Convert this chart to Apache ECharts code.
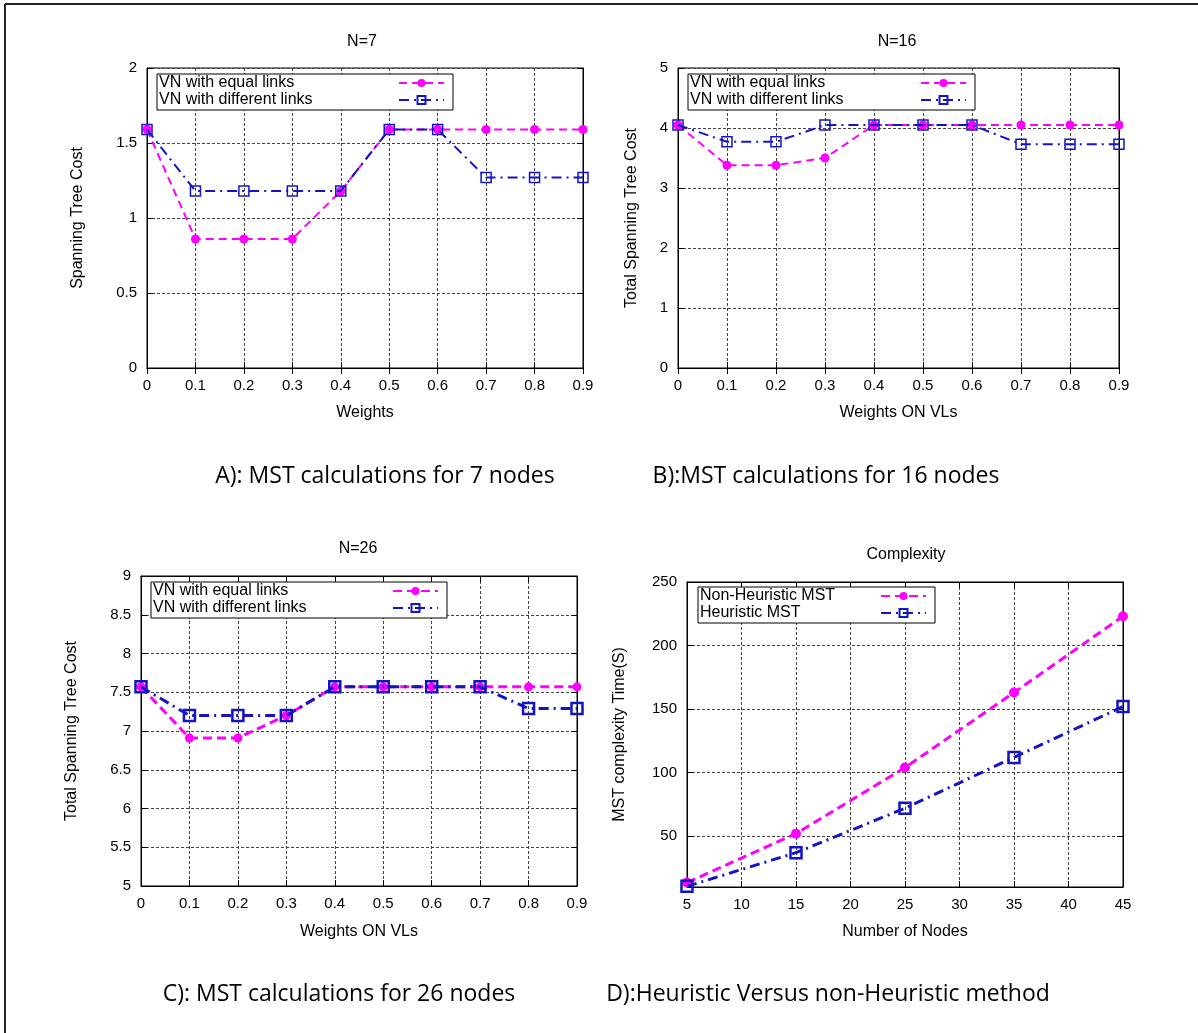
<!DOCTYPE html>
<html><head><meta charset="utf-8">
<script src="https://cdn.jsdelivr.net/npm/echarts@6/dist/echarts.min.js"></script>
<style>html,body{margin:0;padding:0;background:#fff}#c{width:1198px;height:1033px}</style>
</head><body><div id="c"></div>
<script>
// ---- data ----
const weights = ['0','0.1','0.2','0.3','0.4','0.5','0.6','0.7','0.8','0.9'];
const n7Equal  = [1.59,0.86,0.86,0.86,1.18,1.59,1.59,1.59,1.59,1.59];
const n7Diff   = [1.59,1.18,1.18,1.18,1.18,1.59,1.59,1.27,1.27,1.27];
const n16Equal = [4.05,3.38,3.38,3.50,4.05,4.05,4.05,4.05,4.05,4.05];
const n16Diff  = [4.05,3.77,3.77,4.05,4.05,4.05,4.05,3.73,3.73,3.73];
const n26Equal = [7.57,6.91,6.91,7.20,7.57,7.57,7.57,7.57,7.57,7.57];
const n26Diff  = [7.57,7.20,7.20,7.20,7.57,7.57,7.57,7.57,7.29,7.29];
const nodes = [5,15,25,35,45];
const nonHeuristic = [13.5,52,104,163,223];
const heuristic    = [10.5,37,72,112,152];
const complexityTicks = [50,100,150,200,250];
const panelTitles = ['N=7','N=16','N=26','Complexity'];
const captions = ['A): MST calculations for 7 nodes','B):MST calculations for 16 nodes',
                  'C): MST calculations for 26 nodes','D):Heuristic Versus non-Heuristic method'];
const legendEqual = 'VN with equal links', legendDiff = 'VN with different links';
const legendNonH = 'Non-Heuristic MST', legendH = 'Heuristic MST';

const FONT = 'Liberation Sans';
const MAG = '#ff00ff', BLUE = '#1414c4';
const chart = echarts.init(document.getElementById('c'));

const grids = [
  {left:147, top:68, width:436, height:300},
  {left:678, top:68, width:441, height:300},
  {left:141, top:576, width:436, height:310},
  {left:687, top:582, width:436, height:305}
].map(g => Object.assign({show:true, borderColor:'#000', borderWidth:1, backgroundColor:'#fff'}, g));

const gridLine = {show:true, lineStyle:{color:'#444', type:[3,2], width:1}};
const lbl = {color:'#000', fontFamily:FONT, fontSize:15};
const tick = {show:true, inside:true, length:6, lineStyle:{color:'#000'}};
const axLine = {show:true, lineStyle:{color:'#000', width:1}};
const nameStyle = {color:'#000', fontFamily:FONT, fontSize:16};

const xAxes = [], yAxes = [];
function addX(gi, base, name, nameGap) {
  xAxes.push(Object.assign({gridIndex:gi, position:'bottom', axisLine:axLine, axisTick:tick,
    axisLabel:Object.assign({margin:10}, lbl), splitLine:gridLine, name:name, nameLocation:'middle',
    nameGap:nameGap, nameTextStyle:nameStyle}, base));
  xAxes.push(Object.assign({gridIndex:gi, position:'top', axisLine:axLine, axisTick:tick,
    axisLabel:{show:false}, splitLine:{show:false}}, base));
}
function addY(gi, base, name, nameGap, extraTick, extraLabel) {
  yAxes.push(Object.assign({gridIndex:gi, position:'left', axisLine:axLine,
    axisTick:Object.assign({}, tick, extraTick||{}),
    axisLabel:Object.assign({margin:10}, lbl, extraLabel||{}), splitLine:gridLine, name:name,
    nameLocation:'middle', nameGap:nameGap, nameTextStyle:nameStyle}, base));
  yAxes.push(Object.assign({gridIndex:gi, position:'right', axisLine:axLine,
    axisTick:Object.assign({}, tick, extraTick||{}),
    axisLabel:{show:false}, splitLine:{show:false}}, base));
}
const catBase = {type:'category', data:weights, boundaryGap:false};
addX(0, catBase, 'Weights', 37);
addX(1, catBase, 'Weights ON VLs', 37);
addX(2, catBase, 'Weights ON VLs', 38);
addX(3, {type:'value', min:5, max:45, interval:5}, 'Number of Nodes', 37);
addY(0, {type:'value', min:0, max:2, interval:0.5}, 'Spanning Tree Cost', 61);
addY(1, {type:'value', min:0, max:5, interval:1}, 'Total Spanning Tree Cost', 38);
addY(2, {type:'value', min:5, max:9, interval:0.5}, 'Total Spanning Tree Cost', 61);
addY(3, {type:'value', min:10, max:250}, 'MST complexity Time(S)', 59,
     {customValues:complexityTicks}, {customValues:complexityTicks});

function eqSeries(gi, name, data) {
  return {type:'line', name:name, xAxisIndex:gi*2, yAxisIndex:gi*2, data:data,
    symbol:'circle', symbolSize:9, itemStyle:{color:MAG},
    lineStyle:{color:MAG, width:2, type:[8,5]}, z:2};
}
function dfSeries(gi, name, data, thick) {
  return {type:'line', name:name, xAxisIndex:gi*2, yAxisIndex:gi*2, data:data,
    symbol:'rect', symbolSize:thick?11:10,
    itemStyle:{color:'rgba(255,255,255,0)', borderColor:BLUE, borderWidth:thick?2.5:1.5},
    lineStyle:{color:BLUE, width:thick?3:2, type:[10,5,2,5]}, z:3};
}
const sp = n => ' '.repeat(n);
const series = [
  eqSeries(0, legendEqual, n7Equal), dfSeries(0, legendDiff, n7Diff, false),
  eqSeries(1, legendEqual+sp(1), n16Equal), dfSeries(1, legendDiff+sp(1), n16Diff, false),
  Object.assign(eqSeries(2, legendEqual+sp(2), n26Equal), {lineStyle:{color:MAG,width:3,type:[9,5]}}),
  dfSeries(2, legendDiff+sp(2), n26Diff, true),
  Object.assign(eqSeries(3, legendNonH, nodes.map((x,i)=>[x,nonHeuristic[i]])), {lineStyle:{color:MAG,width:3,type:[9,5]}, symbolSize:10}),
  dfSeries(3, legendH, nodes.map((x,i)=>[x,heuristic[i]]), true)
];

function legend(names, left, top, textW) {
  return {data:names, left:left, top:top, orient:'vertical', align:'right', itemWidth:45, itemHeight:10,
    itemGap:1, padding:[1,8,2,2], borderColor:'#000', borderWidth:1, backgroundColor:'#fff',
    selectedMode:false, inactiveColor:'#000',
    formatter: n => '{t|' + n.trim() + '}',
    textStyle:{color:'#000', fontFamily:FONT, fontSize:16,
      rich:{t:{color:'#000', fontFamily:FONT, fontSize:16, width:textW, align:'left'}}}};
}
const legends = [
  legend([legendEqual, legendDiff], 157, 74, 235),
  legend([legendEqual+sp(1), legendDiff+sp(1)], 688, 74, 226),
  legend([legendEqual+sp(2), legendDiff+sp(2)], 151, 582, 235),
  legend([legendNonH, legendH], 698, 587, 176)
];

const titlePos = [[362,42],[897,42],[358,549],[906,555]];
const capPos = [[385,476],[826,476],[339,994],[828,994]];
const graphic = [];
titlePos.forEach((p,i) => graphic.push({type:'text', x:p[0], y:p[1], z:10,
  style:{text:panelTitles[i], fill:'#000', font:'16px "Liberation Sans"', align:'center', verticalAlign:'middle'}}));
capPos.forEach((p,i) => graphic.push({type:'text', x:p[0], y:p[1], z:10,
  style:{text:captions[i], fill:'#000', font:'23px "Open Sans"', align:'center', verticalAlign:'middle'}}));
graphic.push({type:'line', shape:{x1:5, y1:4, x2:1198, y2:4}, style:{stroke:'#222', lineWidth:2}});
graphic.push({type:'line', shape:{x1:5, y1:4, x2:5, y2:1033}, style:{stroke:'#222', lineWidth:2}});

chart.setOption({
  animation:false, backgroundColor:'#fff',
  grid:grids, xAxis:xAxes, yAxis:yAxes, series:series, legend:legends, graphic:graphic
});
</script></body></html>
